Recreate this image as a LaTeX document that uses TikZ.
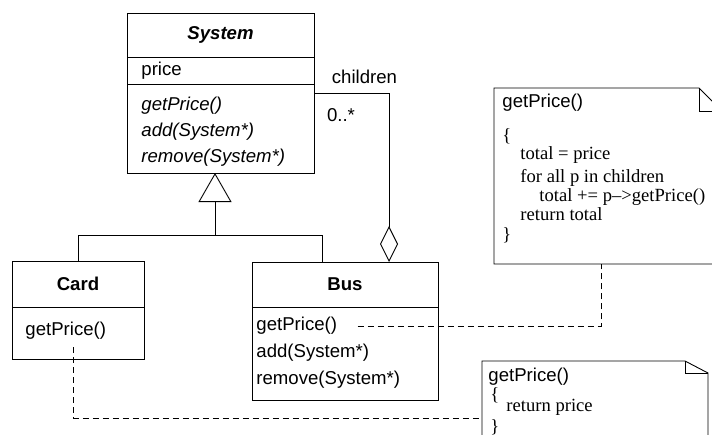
\documentclass[tikz,border=0pt]{standalone}
\usepackage{fontspec}
\setmainfont{Liberation Serif}
\setsansfont{Liberation Sans}
\usetikzlibrary{positioning,arrows.meta}

\tikzset{
  compart/.style={draw, minimum width=#1, inner sep=0pt, outer sep=0pt},
  member/.style={anchor=west, inner sep=0pt},
  code/.style={anchor=west, inner sep=0pt, font=\rmfamily\fontsize{18.6}{22}\selectfont},
  notebox/.style={inner sep=0pt, outer sep=0pt},
  notelink/.style={dash pattern=on 6pt off 4pt},
}

\begin{document}
\begin{tikzpicture}[x=1pt, y=-1pt, line width=0.9pt, line join=miter,
    font=\sffamily\fontsize{18.6}{22}\selectfont]
\clip (0,0) rectangle (712,434);

% System
\node[compart=187pt, minimum height=44pt] (sysname) at (220.5,35) {\bfseries\itshape System};
\node[compart=187pt, minimum height=27pt, below=0pt of sysname] (sysattr) {};
\node[compart=187pt, minimum height=89pt, below=0pt of sysattr] (sysops) {};
\node[member] (sysprice) at (141,71) {price};
\node[member] (sysget) at (141,106) {\itshape getPrice()};
\node[member] (sysadd) at (141,132) {\itshape add(System*)};
\node[member] (sysrem) at (141,158) {\itshape remove(System*)};

% Card
\node[compart=132pt, minimum height=46pt] (cardname) at (78,284) {\bfseries Card};
\node[compart=132pt, minimum height=52pt, below=0pt of cardname] (cardops) {};
\node[member] (cardget) at (25,331) {getPrice()};

% Bus
\node[compart=186pt, minimum height=45pt] (busname) at (345,284.5) {\bfseries Bus};
\node[compart=186pt, minimum height=93pt, below=0pt of busname] (busops) {};
\node[member] (busget) at (256,326) {getPrice()};
\node[member] (busadd) at (256,353) {add(System*)};
\node[member] (busrem) at (256,380) {remove(System*)};

% generalization
\coordinate (genjoin) at (215,235);
\draw[-{Triangle[open, length=29pt, width=33pt]}] (genjoin) -- (genjoin |- sysops.south);
\draw (cardname.north) |- (genjoin);
\draw ([xshift=-23pt]busname.north) |- (genjoin);

% aggregation
\draw[{Diamond[open, length=36pt, width=18pt]}-] ([xshift=44pt]busname.north) |- ([yshift=-9pt]sysops.north east);
\node (children) at (364.5,77) {children};
\node (mult) at (341,115) {0..*};

% notes
\node[notebox, minimum width=228pt, minimum height=176pt] (note1) at (608,176) {};
\draw (note1.south west) -- (note1.north west) -- ([xshift=-23pt]note1.north east)
  -- ([yshift=-23pt]note1.north east) -- (note1.south east) -- cycle;
\draw ([xshift=-23pt]note1.north east) |- ([yshift=-23pt]note1.north east);
\node[member] (n1head) at (502,103) {getPrice()};
\node[code] (n1open) at (502,136) {\{};
\node[code] (n1total) at (520,155) {total = price};
\node[code] (n1for) at (520,178) {for all p in children};
\node[code] (n1add) at (539,197) {total += p-->getPrice()};
\node[code] (n1ret) at (520,214) {return total};
\node[code] (n1close) at (502,235) {\}};

\node[notebox, minimum width=226pt, minimum height=100pt] (note2) at (595,411) {};
\draw (note2.south west) -- (note2.north west) -- ([xshift=-23pt]note2.north east)
  -- ([yshift=-12pt]note2.north east) -- (note2.south east) -- cycle;
\draw ([xshift=-23pt]note2.north east) |- ([yshift=-12pt]note2.north east);
\node[member] (n2head) at (488,377) {getPrice()};
\node[code] (n2open) at (490,395) {\{};
\node[code] (n2ret) at (506,407) {return price};
\node[code] (n2close) at (490,427) {\}};

% links to notes
\draw[notelink] ([xshift=20pt]busget.east) -| ([xshift=-7pt]note1.south);
\draw[notelink] ([xshift=8pt, yshift=-7pt]cardget.south) |- ([yshift=-57pt]note2.north west);
\end{tikzpicture}
\end{document}
